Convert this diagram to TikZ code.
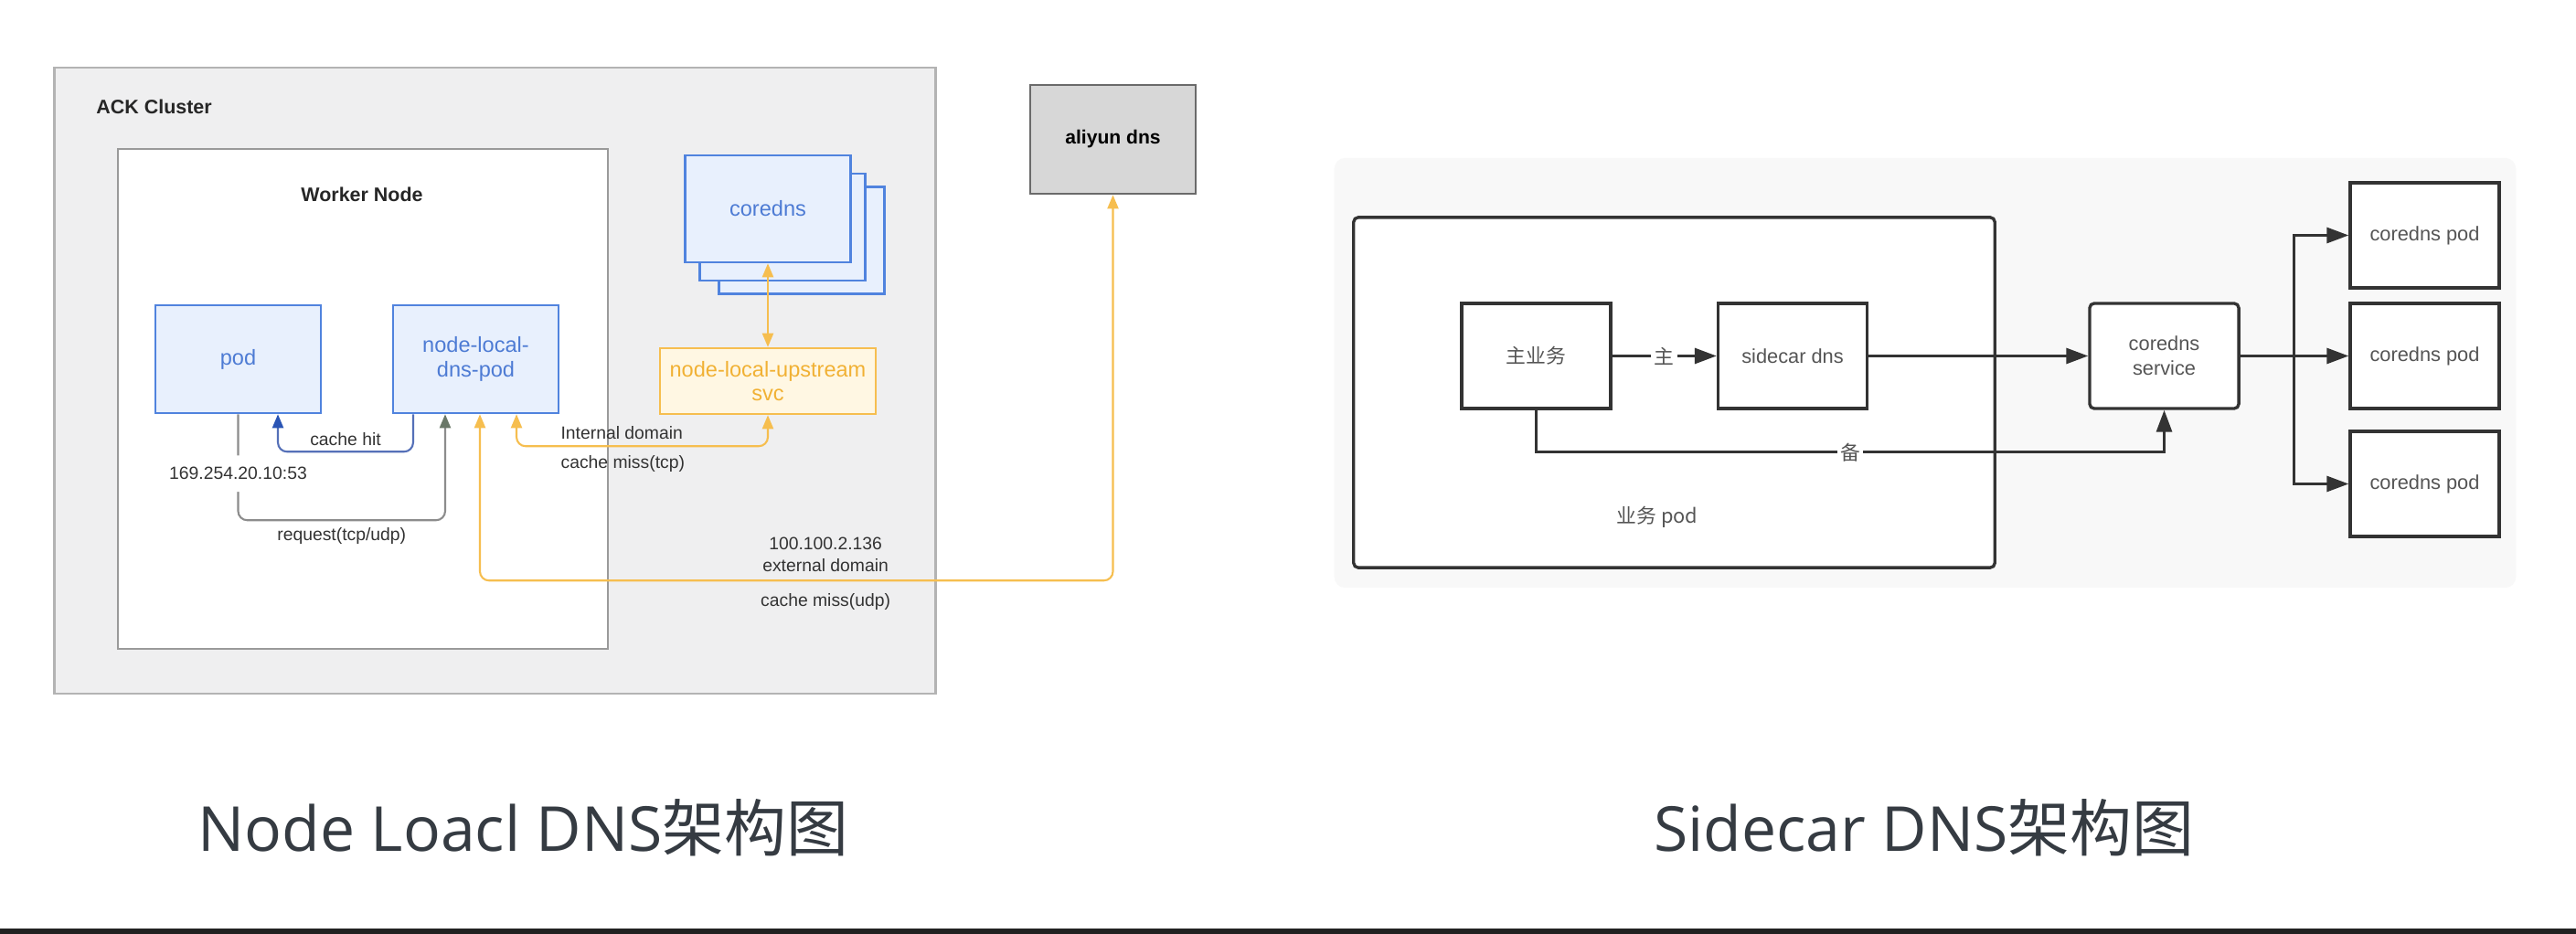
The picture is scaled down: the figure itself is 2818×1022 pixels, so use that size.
\documentclass[tikz,border=0pt]{standalone}
\usepackage{fontspec}
\setmainfont{Liberation Sans}
\setsansfont{Liberation Sans}
\newfontfamily\cjk{Noto Sans CJK SC}
\newfontfamily\capfont{Open Sans}
\usetikzlibrary{arrows.meta}

\definecolor{ackfill}{HTML}{EFEFF0}
\definecolor{ackline}{HTML}{B3B3B3}
\definecolor{workline}{HTML}{9A9A9A}
\definecolor{bluefill}{HTML}{E8F0FD}
\definecolor{blueline}{HTML}{5083DE}
\definecolor{bluetext}{HTML}{4D7BD4}
\definecolor{orgfill}{HTML}{FFF7E3}
\definecolor{orgline}{HTML}{F6BE4F}
\definecolor{orgtext}{HTML}{F1B134}
\definecolor{hitline}{HTML}{5570B8}
\definecolor{hithead}{HTML}{2A55B5}
\definecolor{reqline}{HTML}{8C8C8C}
\definecolor{reqhead}{HTML}{6A7868}
\definecolor{alifill}{HTML}{D7D7D7}
\definecolor{aliline}{HTML}{6A6A6A}
\definecolor{panelfill}{HTML}{F8F8F8}
\definecolor{sideline}{HTML}{333333}
\definecolor{sidetext}{HTML}{555555}
\definecolor{lbltext}{HTML}{333333}
\definecolor{captext}{HTML}{353B42}

\tikzset{
	bluebox/.style={draw=blueline, fill=bluefill, line width=0.7pt, text=bluetext,
		minimum width=1.81cm, minimum height=1.18cm, inner sep=0pt, align=center,
		font=\fontsize{6.7}{7.6}\selectfont},
	orgbox/.style={draw=orgline, fill=orgfill, line width=0.7pt, text=orgtext,
		minimum width=2.36cm, minimum height=0.72cm, inner sep=0pt, align=center,
		font=\fontsize{6.7}{7.6}\selectfont},
	alibox/.style={draw=aliline, fill=alifill, line width=0.75pt, text=black,
		minimum width=1.81cm, minimum height=1.19cm, inner sep=0pt,
		font=\bfseries\fontsize{6}{7}\selectfont},
	titlelbl/.style={text=black!85, font=\bfseries\fontsize{6.1}{7}\selectfont},
	lbl/.style={text=lbltext, inner sep=1pt, align=center,
		font=\fontsize{5.5}{6.7}\selectfont},
	upline/.style={draw=orgline, line width=0.6pt, rounded corners=0.1cm,
		{Triangle[length=0.15cm,width=0.12cm]}-{Triangle[length=0.15cm,width=0.12cm]}},
	hitlink/.style={draw=hitline, line width=0.6pt, rounded corners=0.1cm,
		-{Triangle[length=0.15cm,width=0.12cm,color=hithead]}},
	reqlink/.style={draw=reqline, line width=0.6pt, rounded corners=0.1cm,
		-{Triangle[length=0.15cm,width=0.12cm,color=reqhead]}},
	sidebox/.style={draw=sideline, fill=white, line width=0.95pt, text=sidetext,
		minimum width=1.63cm, minimum height=1.15cm, inner sep=0pt, align=center,
		font=\fontsize{6.2}{7.6}\selectfont},
	sidelbl/.style={text=sidetext, inner sep=1pt, font=\fontsize{6.2}{7.4}\selectfont},
	sidelink/.style={draw=sideline, line width=0.85pt},
	blkarrow/.style={sidelink, -{Triangle[length=0.24cm,width=0.17cm]}},
	caption/.style={text=captext, inner sep=0pt}
}

\begin{document}
\begin{tikzpicture}[x=0.01cm, y=-0.01cm, font=\sffamily]
	\useasboundingbox (0,0) rectangle (2818,1022);
	\fill[white] (0,0) rectangle (2818,1022);
	
	%clusters
	\node[draw=ackline, fill=ackfill, line width=0.7pt, minimum width=9.63cm,
	minimum height=6.85cm] (ack) at (541.5,416.5) {};
	\node[titlelbl, anchor=west] (acklbl) at (93,117) {ACK Cluster};
	\node[draw=workline, fill=white, line width=0.55pt, minimum width=5.36cm,
	minimum height=5.47cm] (worker) at (397,436.5) {};
	\node[titlelbl] (workerlbl) at (396,213) {Worker Node};
	
	%boxes
	\node[bluebox] (pod) at (260.5,393) {pod};
	\node[bluebox] (dnspod) at (520.5,393) {node-local-\\dns-pod};
	\foreach \dx/\dy/\nm in {37/34.5/core3, 16/20/core2}
	\node[bluebox, minimum height=1.17cm] (\nm) at (840+\dx,228.5+\dy) {};
	\node[bluebox, minimum height=1.17cm] (core1) at (840,228.5) {coredns};
	\node[orgbox] (upstream) at (840,417) {node-local-upstream\\svc};
	\node[alibox] (aliyun) at (1217.5,152.5) {aliyun dns};
	
	%links
	\draw[upline] (core1.south) -- (upstream.north);
	\draw[hitlink] ([xshift=-0.685cm]dnspod.south) -- ++(0,41)
	-| ([xshift=0.435cm]pod.south) node[lbl, pos=0.25, above=0.02cm] {cache hit};
	\draw[reqlink] (pod.south) -- ++(0,116)
	node[lbl, pos=0.56, fill=white, inner ysep=0.13cm] {169.254.20.10:53}
	-| ([xshift=-0.335cm]dnspod.south) node[lbl, pos=0.25, below=0.04cm] {request(tcp/udp)};
	\draw[upline] ([xshift=0.445cm]dnspod.south) -- ++(0,35) -| (upstream.south)
	node[lbl, pos=0.08, anchor=south west, yshift=0.03cm] {Internal domain}
	node[lbl, pos=0.08, anchor=north west, yshift=-0.06cm] {cache miss(tcp)};
	\draw[upline] ([xshift=0.045cm]dnspod.south) -- ++(0,182) -| (aliyun.south)
	node[lbl, pos=0.273, above=0.05cm] {100.100.2.136\\external domain}
	node[lbl, pos=0.273, below=0.1cm] {cache miss(udp)};
	
	%sidecar panel
	\node[fill=panelfill, rounded corners=0.12cm, minimum width=12.92cm,
	minimum height=4.70cm] (panel) at (2106,408) {};
	\node[sidebox, rounded corners=0.05cm, minimum width=7.01cm,
	minimum height=3.83cm] (bizpod) at (1831.5,429.5) {};
	\node[sidelbl] (bizlbl) at (1813,566) {\cjk 业务 pod};
	\node[sidebox] (mainbiz) at (1680.5,389.5) {\cjk 主业务};
	\node[sidebox] (sidecar) at (1961,389.5) {sidecar dns};
	\node[sidebox, rounded corners=0.05cm] (service) at (2367.5,389.5) {coredns\\service};
	\foreach \i/\y in {1/257.5, 2/389.5, 3/529.5}
	\node[sidebox] (cpod\i) at (2652.5,\y) {coredns pod};
	
	%sidecar links
	\draw[blkarrow] (mainbiz) -- node[sidelbl, fill=white] {\cjk 主} (sidecar);
	\draw[blkarrow] (sidecar) -- (service);
	\draw[blkarrow] (mainbiz.south) -- ++(0,46) -| (service.south)
	node[sidelbl, pos=0.25, fill=white] {\cjk 备};
	\coordinate (fork) at (2509,389.5);
	\draw[sidelink] (service.east) -- (fork);
	\foreach \i in {1,2,3}
	\draw[blkarrow] (fork) |- (cpod\i.west);
	
	%captions
	\node[caption, font=\fontsize{19.3}{23}\selectfont, anchor=base] (cap1) at (572.5,931)
	{{\capfont Node Loacl DNS}{\cjk 架构图}};
	\node[caption, font=\fontsize{19.3}{23}\selectfont, anchor=base] (cap2) at (2105,931)
	{{\capfont Sidecar DNS}{\cjk 架构图}};
	\fill[black!87] (0,1016) rectangle (2818,1022);
\end{tikzpicture}
\end{document}
